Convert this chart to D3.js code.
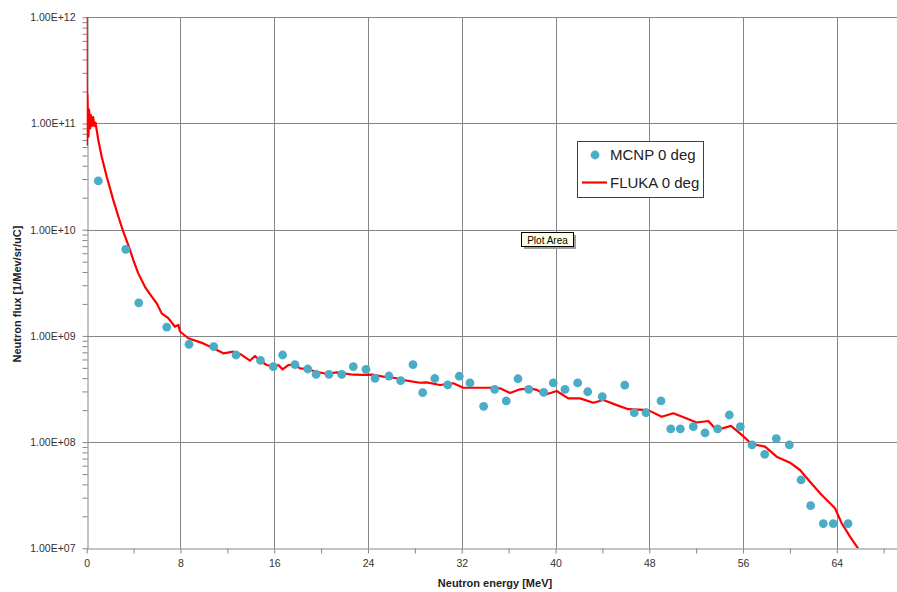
<!DOCTYPE html>
<html><head><meta charset="utf-8">
<script src="https://cdn.jsdelivr.net/npm/d3@7"></script>
<style>
body{margin:0;background:#fff;}
text{font-family:"Liberation Sans",Arial,sans-serif;}
</style></head>
<body><svg id="c" width="897" height="592"></svg>
<script>
// ---- data ----
const mcnpEnergy = [0.99,3.33,4.44,6.83,8.73,10.84,12.74,14.83,15.92,16.72,17.77,18.86,19.57,20.67,21.76,22.75,23.83,24.60,25.79,26.79,27.84,28.67,29.70,30.80,31.79,32.70,33.87,34.81,35.80,36.80,37.71,38.99,39.81,40.81,41.89,42.75,43.99,45.91,46.72,47.72,49.00,49.83,50.65,51.76,52.76,53.84,54.83,55.77,56.77,57.85,58.84,59.95,60.95,61.77,62.85,63.70,64.96];
const mcnpFlux = [2.88e10,6.53e9,2.05e9,1.21e9,8.34e8,7.91e8,6.61e8,5.87e8,5.13e8,6.61e8,5.36e8,4.88e8,4.35e8,4.35e8,4.35e8,5.13e8,4.84e8,3.99e8,4.19e8,3.79e8,5.36e8,2.92e8,3.97e8,3.45e8,4.17e8,3.61e8,2.17e8,3.14e8,2.44e8,3.95e8,3.14e8,2.94e8,3.61e8,3.14e8,3.61e8,2.98e8,2.68e8,3.44e8,1.89e8,1.89e8,2.44e8,1.33e8,1.33e8,1.40e8,1.22e8,1.33e8,1.80e8,1.40e8,9.4e7,7.67e7,1.08e8,9.4e7,4.40e7,2.52e7,1.71e7,1.71e7,1.71e7];
const flukaEnergy = [0,0.02,0.05,0.10,0.15,0.20,0.30,0.35,0.45,0.55,0.65,0.75,0.99,1.28,1.71,2.27,2.70,3.12,3.55,3.98,4.40,4.97,5.55,5.97,6.40,6.96,7.53,7.82,7.96,8.67,9.95,10.80,11.66,12.51,13.08,13.93,14.36,14.79,15.36,15.92,16.35,16.72,17.20,17.77,18.20,18.77,19.62,20.48,21.33,21.89,22.75,23.60,24.45,25.31,26.45,27.30,28.44,29.01,30.14,31.28,32.13,34.69,35.26,36.12,36.97,37.83,38.40,39.10,40.10,41.09,42.09,43.23,44.08,45.22,46.21,47.92,49.06,50.05,51.19,52.05,53.04,53.75,54.97,55.89,56.74,57.88,58.87,60.01,60.86,61.71,62.71,63.85,64.42,65.13,65.81];
const flukaFlux = [1.0e12,6.3e10,1.9e11,1.2e11,7.5e10,1.35e11,9.0e10,1.2e11,9.5e10,1.15e11,9.5e10,1.02e11,7.0e10,4.87e10,3.15e10,1.9e10,1.33e10,9.57e9,7.17e9,5.18e9,3.88e9,2.90e9,2.34e9,2.03e9,1.63e9,1.47e9,1.22e9,1.27e9,1.10e9,9.5e8,8.5e8,7.64e8,6.85e8,7.1e8,6.76e8,5.84e8,6.47e8,5.84e8,5.32e8,5.13e8,5.32e8,4.84e8,5.32e8,5.36e8,4.95e8,4.88e8,4.6e8,4.38e8,4.54e8,4.44e8,4.31e8,4.3e8,4.31e8,4.13e8,3.99e8,3.79e8,3.62e8,3.65e8,3.45e8,3.58e8,3.25e8,3.25e8,3.21e8,2.9e8,3.14e8,3.21e8,3.1e8,2.79e8,3.03e8,2.58e8,2.58e8,2.35e8,2.49e8,2.23e8,2.04e8,2.0e8,1.73e8,1.87e8,1.67e8,1.53e8,1.58e8,1.30e8,1.42e8,1.17e8,9.6e7,9.06e7,7.29e7,6.4e7,5.46e7,4.24e7,3.18e7,2.38e7,1.72e7,1.29e7,1.0e7];
const xTickValues = [0,8,16,24,32,40,48,56,64];
const xTickLabels = ["0","8","16","24","32","40","48","56","64"];
const yTickValues = [1e7,1e8,1e9,1e10,1e11,1e12];
const yTickLabels = ["1.00E+07","1.00E+08","1.00E+09","1.00E+10","1.00E+11","1.00E+12"];
const seriesNames = ["MCNP 0 deg","FLUKA 0 deg"];

// ---- layout ----
const svg = d3.select("#c");
const pLeft = 86.7, pTop = 17.3, pBottom = 548.3;
const x = d3.scaleLinear().domain([0,72]).range([pLeft, pLeft + 72*11.72]);
const y = d3.scaleLog().domain([1e7,1e12]).range([pBottom, pTop]);
const grid = "#868686";

svg.append("defs").append("clipPath").attr("id","clip")
  .append("rect").attr("x",pLeft).attr("y",pTop-1).attr("width",900).attr("height",pBottom-pTop+1);

// gridlines
svg.append("g").selectAll("line").data(yTickValues.slice(1)).join("line")
  .attr("x1",pLeft).attr("x2",x(72)).attr("y1",d=>Math.round(y(d))+0.5).attr("y2",d=>Math.round(y(d))+0.5)
  .attr("stroke",grid).attr("stroke-width",1);
svg.append("g").selectAll("line").data(xTickValues.slice(1)).join("line")
  .attr("x1",d=>Math.round(x(d))+0.5).attr("x2",d=>Math.round(x(d))+0.5).attr("y1",pTop).attr("y2",pBottom)
  .attr("stroke",grid).attr("stroke-width",1);

// y axis with minor ticks
const yMinor = [];
for (let e=7;e<12;e++) for (let m=1;m<10;m++) yMinor.push(m*Math.pow(10,e));
yMinor.push(1e12);
const yAxis = d3.axisLeft(y).tickValues(yMinor).tickSize(5).tickSizeOuter(0)
  .tickFormat(d => { const i = yTickValues.findIndex(v => Math.abs(v-d)/v < 1e-9); return i>=0 ? yTickLabels[i] : ""; });
const gy = svg.append("g").attr("transform",`translate(${Math.round(pLeft)+0.5},0)`).call(yAxis);
gy.selectAll("text").attr("x",-12).attr("font-size","10.5px").attr("fill","#333")
  .attr("font-family","'Liberation Sans',Arial,sans-serif");
gy.selectAll("line,path").attr("stroke",grid);

// x axis with minor ticks
const xMinor = d3.range(0,73,4);
const xAxis = d3.axisBottom(x).tickValues(xMinor).tickSize(5).tickSizeOuter(0)
  .tickFormat(d => { const i = xTickValues.indexOf(d); return i>=0 ? xTickLabels[i] : ""; });
const gx = svg.append("g").attr("transform",`translate(0,${Math.round(pBottom)+0.5})`).call(xAxis);
gx.selectAll("text").attr("y",11).attr("font-size","10.5px").attr("fill","#333")
  .attr("font-family","'Liberation Sans',Arial,sans-serif");
gx.selectAll("line,path").attr("stroke",grid);

// FLUKA line
const flukaData = flukaEnergy.map((e,i)=>({e, f: flukaFlux[i]}));
svg.append("path").datum(flukaData).attr("clip-path","url(#clip)")
  .attr("d", d3.line().x(d=>x(d.e)).y(d=>y(d.f)))
  .attr("fill","none").attr("stroke","#ff0000").attr("stroke-width",2.2).attr("stroke-linejoin","round");

// MCNP points
const mcnpData = mcnpEnergy.map((e,i)=>({e, f: mcnpFlux[i]}));
svg.append("g").selectAll("circle").data(mcnpData).join("circle")
  .attr("cx",d=>x(d.e)).attr("cy",d=>y(d.f)).attr("r",4.4).attr("fill","#4bacc6");

// axis titles
svg.append("text").attr("x",495).attr("y",587).attr("text-anchor","middle")
  .attr("font-weight","bold").attr("font-size","11px").attr("fill","#222").text("Neutron energy [MeV]");
svg.append("text").attr("transform","translate(21,294) rotate(-90)").attr("text-anchor","middle")
  .attr("font-weight","bold").attr("font-size","11px").attr("fill","#222").text("Neutron flux [1/Mev/sr/uC]");

// legend
const lg = svg.append("g");
lg.append("rect").attr("x",577.5).attr("y",141.5).attr("width",126).attr("height",56)
  .attr("fill","#fff").attr("stroke","#404040").attr("stroke-width",1);
lg.append("circle").attr("cx",595).attr("cy",155).attr("r",4.4).attr("fill","#4bacc6");
lg.append("text").attr("x",610).attr("y",160).attr("font-size","15px").attr("fill","#222").text(seriesNames[0]);
lg.append("line").attr("x1",582).attr("x2",607).attr("y1",182.5).attr("y2",182.5)
  .attr("stroke","#ff0000").attr("stroke-width",2.2);
lg.append("text").attr("x",610).attr("y",188).attr("font-size","15px").attr("fill","#222").text(seriesNames[1]);

// tooltip "Plot Area"
const tt = svg.append("g");
tt.append("rect").attr("x",524).attr("y",235).attr("width",52).attr("height",14).attr("fill","#a0a0a0");
tt.append("rect").attr("x",521.5).attr("y",232.5).attr("width",52).attr("height",14)
  .attr("fill","#ffffe1").attr("stroke","#000").attr("stroke-width",1);
tt.append("text").attr("x",547.5).attr("y",243.5).attr("text-anchor","middle").attr("font-size","10px")
  .attr("fill","#000").text("Plot Area");
</script></body></html>
